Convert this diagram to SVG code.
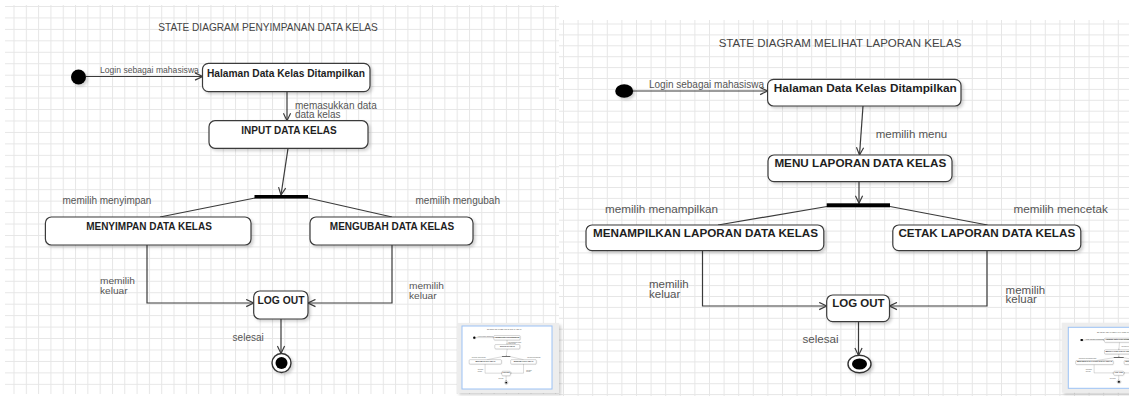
<svg xmlns="http://www.w3.org/2000/svg" xmlns:xlink="http://www.w3.org/1999/xlink" width="1129" height="396" viewBox="0 0 1129 396">
<defs>
<style>
.st{fill:#fff;stroke:#3a3a3a;stroke-width:1.2}
.bt{font-family:"Liberation Sans",Arial,sans-serif;font-weight:bold;fill:#1e1e1e;text-anchor:middle}
.lb{font-family:"Liberation Sans",Arial,sans-serif;fill:#555}
.ttl{font-family:"Liberation Sans",Arial,sans-serif;fill:#444;text-anchor:middle}
.cn{fill:none;stroke:#3a3a3a;stroke-width:1.2}
.ar{marker-end:url(#arr)}
.bar{fill:#000}
.dot{fill:#000}
.fin{fill:#fff;stroke:#333;stroke-width:1.4}
</style>
<pattern id="gridL" patternUnits="userSpaceOnUse" x="13.5" y="6" width="12.31" height="11.45"><path d="M0.5 0 V11.45 M0 0.5 H12.31" stroke="#e6e6e6" stroke-width="1" fill="none"/></pattern>
<pattern id="gridR" patternUnits="userSpaceOnUse" x="563" y="23.5" width="14.6" height="10.9"><path d="M0.5 0 V10.9 M0 0.5 H14.6" stroke="#e6e6e6" stroke-width="1" fill="none"/></pattern>
<marker id="arr" viewBox="0 0 10 10" refX="9.3" refY="5" markerWidth="9" markerHeight="9" markerUnits="userSpaceOnUse" orient="auto"><path d="M1,1 L9.3,5 L1,9" fill="none" stroke="#3a3a3a" stroke-width="1.3"/></marker>
<filter id="sh" x="-20%" y="-30%" width="150%" height="170%"><feDropShadow dx="2" dy="2" stdDeviation="1.5" flood-color="#000" flood-opacity="0.18"/></filter>
<clipPath id="clipTL"><rect x="462" y="326" width="90" height="63"/></clipPath>
<clipPath id="clipTR"><rect x="1068.3" y="327.3" width="70" height="61"/></clipPath>
</defs>

<rect x="0" y="0" width="1129" height="396" fill="#fff"/>
<rect id="grid-left" x="5" y="5" width="554" height="389" fill="url(#gridL)"/>
<rect id="grid-right" x="559" y="20" width="570" height="376" fill="url(#gridR)"/>

<g id="leftDia">
  <text id="l-title" class="ttl" x="268" y="31" font-size="10.1">STATE DIAGRAM PENYIMPANAN DATA KELAS</text>
  <g id="l-connectors">
    <line class="cn ar" x1="86" y1="76.5" x2="202.5" y2="76.5"/>
    <line class="cn ar" x1="287" y1="91.7" x2="287" y2="120.7"/>
    <line class="cn ar" x1="288" y1="148.3" x2="281" y2="195"/>
    <line class="cn" x1="255" y1="198" x2="160" y2="217"/>
    <line class="cn" x1="308" y1="198" x2="392" y2="217"/>
    <polyline class="cn ar" points="147,245 147,303 253.7,303"/>
    <polyline class="cn ar" points="392,245 392,303 308,303"/>
    <line class="cn ar" x1="281" y1="319" x2="281" y2="353.5"/>
    <text class="lb" x="100" y="73" font-size="8.6">Login sebagai mahasiswa</text>
    <text class="lb" x="295" y="108.5" font-size="10">memasukkan data</text>
    <text class="lb" x="295" y="118" font-size="10">data kelas</text>
    <text class="lb" x="62.5" y="203.5" font-size="10">memilih menyimpan</text>
    <text class="lb" x="415.5" y="203.5" font-size="10">memilih mengubah</text>
    <text class="lb" x="100" y="284.3" font-size="9.6" textLength="35" lengthAdjust="spacingAndGlyphs">memilih</text>
    <text class="lb" x="100" y="294" font-size="9.6" textLength="27.5" lengthAdjust="spacingAndGlyphs">keluar</text>
    <text class="lb" x="409" y="288.8" font-size="9.6" textLength="35" lengthAdjust="spacingAndGlyphs">memilih</text>
    <text class="lb" x="409" y="298.5" font-size="9.6" textLength="27.5" lengthAdjust="spacingAndGlyphs">keluar</text>
    <text class="lb" x="232.6" y="341" font-size="10">selesai</text>
  </g>
  <g id="l-start"><circle class="dot" cx="78.5" cy="77" r="7.5" filter="url(#sh)"/></g>
  <g id="l-halaman"><rect class="st" x="202.5" y="63.3" width="167.5" height="28.4" rx="6" filter="url(#sh)"/><text class="bt" x="286" y="77" font-size="10.2">Halaman Data Kelas Ditampilkan</text></g>
  <g id="l-input"><rect class="st" x="209" y="120.7" width="159" height="27.6" rx="6" filter="url(#sh)"/><text class="bt" x="289" y="133.5" font-size="10">INPUT DATA KELAS</text></g>
  <g id="l-fork"><rect class="bar" x="254.5" y="195" width="53.5" height="3.6"/></g>
  <g id="l-menyimpan"><rect class="st" x="45.4" y="217" width="205.6" height="28" rx="6" filter="url(#sh)"/><text class="bt" x="149" y="229.5" font-size="10">MENYIMPAN DATA KELAS</text></g>
  <g id="l-mengubah"><rect class="st" x="310" y="217" width="163" height="28" rx="6" filter="url(#sh)"/><text class="bt" x="392" y="229.5" font-size="10">MENGUBAH DATA KELAS</text></g>
  <g id="l-logout"><rect class="st" x="253.7" y="291" width="54.3" height="28" rx="6" filter="url(#sh)"/><text class="bt" x="281" y="304.3" font-size="10.3">LOG OUT</text></g>
  <g id="l-final"><circle class="fin" cx="281.5" cy="363" r="9.5" filter="url(#sh)"/><circle class="dot" cx="281.5" cy="363" r="6"/></g>
</g>

<g id="rightDia">
  <text id="r-title" class="ttl" x="840" y="46.5" font-size="11.5">STATE DIAGRAM MELIHAT LAPORAN KELAS</text>
  <g id="r-connectors">
    <line class="cn ar" x1="633" y1="91" x2="767.6" y2="91"/>
    <line class="cn ar" x1="863" y1="106" x2="859.5" y2="155"/>
    <line class="cn ar" x1="859" y1="181.7" x2="859" y2="203.3"/>
    <line class="cn" x1="827" y1="206.5" x2="718" y2="225"/>
    <line class="cn" x1="890" y1="206.5" x2="987.5" y2="225"/>
    <polyline class="cn ar" points="702.5,250.7 702.5,306 826.7,306"/>
    <polyline class="cn ar" points="987,250.7 987,306 889.5,306"/>
    <line class="cn ar" x1="858.5" y1="321.7" x2="858.5" y2="355.5"/>
    <text class="lb" x="649" y="88.3" font-size="10">Login sebagai mahasiswa</text>
    <text class="lb" x="875.7" y="137.5" font-size="11.5">memilih menu</text>
    <text class="lb" x="605" y="212.5" font-size="11.7">memilih menampilkan</text>
    <text class="lb" x="1013.6" y="212.5" font-size="11.7">memilih mencetak</text>
    <text class="lb" x="649" y="287.8" font-size="10" textLength="39.6" lengthAdjust="spacingAndGlyphs">memilih</text>
    <text class="lb" x="649" y="297.5" font-size="10" textLength="31.3" lengthAdjust="spacingAndGlyphs">keluar</text>
    <text class="lb" x="1005.6" y="293.5" font-size="10" textLength="39.6" lengthAdjust="spacingAndGlyphs">memilih</text>
    <text class="lb" x="1005.6" y="303.2" font-size="10" textLength="31.3" lengthAdjust="spacingAndGlyphs">keluar</text>
    <text class="lb" x="802.4" y="342.7" font-size="11.6">selesai</text>
  </g>
  <g id="r-start"><ellipse class="dot" cx="624.2" cy="91" rx="9" ry="6.8" filter="url(#sh)"/></g>
  <g id="r-halaman"><rect class="st" x="767.6" y="79.3" width="193.4" height="26.7" rx="6" filter="url(#sh)"/><text class="bt" x="865.3" y="92" font-size="11.8">Halaman Data Kelas Ditampilkan</text></g>
  <g id="r-menu"><rect class="st" x="768" y="155" width="184" height="26.7" rx="6" filter="url(#sh)"/><text class="bt" x="860.3" y="166.7" font-size="11.7">MENU LAPORAN DATA KELAS</text></g>
  <g id="r-fork"><rect class="bar" x="826.7" y="203.3" width="63.3" height="4"/></g>
  <g id="r-menampilkan"><rect class="st" x="586" y="225" width="237.8" height="25.7" rx="6" filter="url(#sh)"/><text class="bt" x="705.5" y="236.7" font-size="11.7">MENAMPILKAN LAPORAN DATA KELAS</text></g>
  <g id="r-cetak"><rect class="st" x="892.8" y="225" width="188" height="25.7" rx="6" filter="url(#sh)"/><text class="bt" x="986.8" y="236.7" font-size="11.7">CETAK LAPORAN DATA KELAS</text></g>
  <g id="r-logout"><rect class="st" x="826.7" y="295" width="62.8" height="26.7" rx="6" filter="url(#sh)"/><text class="bt" x="858.4" y="306.7" font-size="11.5">LOG OUT</text></g>
  <g id="r-final"><ellipse class="fin" cx="859.5" cy="364" rx="11.5" ry="8.8" filter="url(#sh)"/><ellipse class="dot" cx="859.5" cy="364" rx="7.5" ry="5.6"/></g>
</g>

<g id="thumb-left">
  <rect x="457" y="323" width="102" height="70" fill="#ededed" filter="url(#sh)"/>
  <rect x="462" y="326" width="90" height="63" fill="#fff" stroke="#9cc2f5" stroke-width="1"/>
  <g clip-path="url(#clipTL)"><use xlink:href="#leftDia" href="#leftDia" transform="translate(462,325.6) scale(0.157)"/></g>
</g>
<g id="thumb-right">
  <rect x="1061.7" y="322.7" width="80" height="70" fill="#ededed" filter="url(#sh)"/>
  <rect x="1068.3" y="327.3" width="70" height="61" fill="#fff" stroke="#9cc2f5" stroke-width="1"/>
  <g clip-path="url(#clipTR)"><use xlink:href="#rightDia" href="#rightDia" transform="translate(983.1,326.1) scale(0.158,0.153)"/></g>
</g>
</svg>
